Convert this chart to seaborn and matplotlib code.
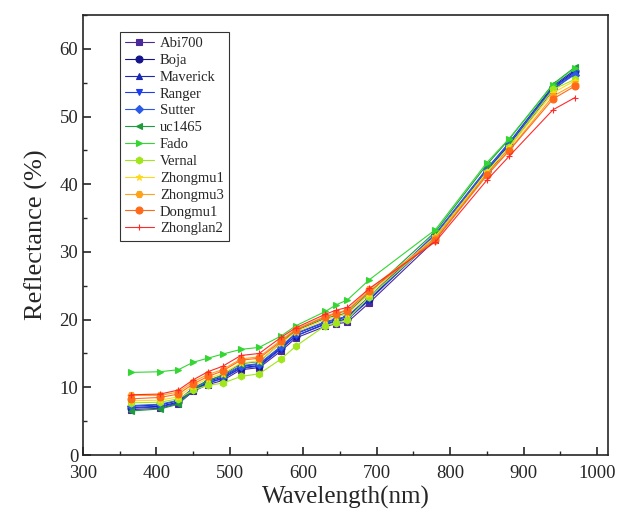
import pandas as pd
import matplotlib
matplotlib.use("Agg")
import matplotlib.pyplot as plt
import seaborn as sns
from matplotlib.ticker import MultipleLocator

# band centres (nm)
wavelength = [365, 405, 430, 450, 470, 490, 515, 540, 570, 590, 630, 645, 660, 690, 780, 850, 880, 940, 970]

# reflectance (%), one list per variety
abi700 = [6.7, 6.9, 7.6, 9.4, 10.4, 11.0, 12.6, 12.9, 15.4, 17.3, 19.0, 19.4, 19.6, 22.5, 31.8, 41.6, 45.4, 53.9, 56.4]
boja = [7.0, 7.2, 7.8, 9.6, 10.7, 11.3, 12.9, 13.2, 15.8, 17.6, 19.4, 19.8, 20.1, 23.0, 32.3, 42.0, 45.8, 54.3, 56.7]
maverick = [7.2, 7.4, 8.0, 9.8, 10.9, 11.5, 13.1, 13.4, 16.0, 17.9, 19.6, 20.0, 20.4, 23.3, 32.6, 42.3, 46.1, 54.5, 56.9]
ranger = [6.9, 7.1, 7.7, 9.5, 10.6, 11.3, 12.8, 13.1, 15.7, 17.6, 19.3, 19.7, 20.0, 22.9, 32.2, 42.0, 45.9, 54.2, 56.5]
sutter = [7.3, 7.5, 8.1, 9.9, 11.0, 11.7, 13.2, 13.5, 16.1, 18.0, 19.7, 20.1, 20.5, 23.4, 32.7, 42.2, 46.0, 54.1, 56.2]
uc1465 = [6.5, 6.8, 7.5, 9.7, 11.0, 11.8, 13.5, 13.8, 16.6, 18.4, 20.2, 20.6, 21.0, 24.0, 33.0, 42.9, 46.6, 54.8, 57.3]
fado = [12.2, 12.3, 12.6, 13.7, 14.3, 14.9, 15.6, 15.9, 17.6, 19.1, 21.2, 22.2, 22.9, 25.9, 33.3, 43.2, 46.7, 54.7, 57.2]
vernal = [7.7, 7.8, 8.3, 9.6, 10.3, 10.6, 11.6, 12.0, 14.2, 16.1, 19.1, 19.5, 20.0, 23.4, 32.0, 41.8, 45.5, 54.0, 55.5]
zhongmu1 = [8.0, 8.1, 8.6, 10.2, 11.3, 12.0, 13.6, 13.9, 16.5, 18.2, 20.0, 20.4, 20.8, 23.8, 32.3, 41.8, 45.4, 53.5, 55.3]
zhongmu3 = [8.8, 8.8, 9.3, 10.8, 11.9, 12.6, 14.2, 14.5, 17.0, 18.6, 20.5, 21.0, 21.4, 24.5, 32.0, 41.5, 45.0, 53.0, 54.8]
dongmu1 = [8.3, 8.5, 9.0, 10.5, 11.6, 12.4, 14.0, 14.3, 16.8, 18.5, 20.4, 20.9, 21.3, 24.2, 31.8, 41.3, 44.9, 52.6, 54.5]
zhonglan2 = [8.9, 9.0, 9.6, 11.1, 12.3, 13.1, 14.7, 15.0, 17.4, 18.8, 20.8, 21.4, 21.8, 24.6, 31.5, 40.6, 44.1, 51.0, 52.8]

names = ['Abi700', 'Boja', 'Maverick', 'Ranger', 'Sutter', 'uc1465', 'Fado',
         'Vernal', 'Zhongmu1', 'Zhongmu3', 'Dongmu1', 'Zhonglan2']
series = [abi700, boja, maverick, ranger, sutter, uc1465, fado,
          vernal, zhongmu1, zhongmu3, dongmu1, zhonglan2]

colors = ['#4a2a9a', '#14148c', '#1a28b4', '#1e3cf0', '#2a5ae6', '#1f9a3c', '#33d633',
          '#a0e61a', '#ffd91a', '#ffa21a', '#ff6a1a', '#ff2a2a']
markers = ['s', 'o', '^', 'v', 'D', '<', '>', 'h', '*', 'H', 'o', '+']

sns.set_style("ticks")
plt.rcParams['font.family'] = ['Liberation Serif', 'DejaVu Serif']

fig = plt.figure(figsize=(6.17, 5.15), dpi=100)
ax = fig.add_axes([0.1345, 0.1165, 0.851, 0.8544])

for name, vals, c, m in zip(names, series, colors, markers):
    sns.lineplot(x=wavelength, y=vals, color=c, marker=m, markersize=5 if m != 'D' else 4,
                 markeredgecolor=c, markeredgewidth=0.8, linewidth=0.8, label=name, ax=ax)

ax.set_xlim(300, 1015)
ax.set_ylim(0, 65)
ax.xaxis.set_major_locator(MultipleLocator(100))
ax.xaxis.set_minor_locator(MultipleLocator(50))
ax.yaxis.set_major_locator(MultipleLocator(10))
ax.yaxis.set_minor_locator(MultipleLocator(5))
ax.tick_params(which='major', direction='in', length=6, width=1.2, labelsize=13.5,
               top=False, right=False)
ax.tick_params(axis='x', which='major', pad=7)
ax.tick_params(which='minor', direction='in', length=3, width=1.0, top=False, right=False)
for s in ax.spines.values():
    s.set_linewidth(1.2)
    s.set_visible(True)

ax.set_xlabel("Wavelength(nm)", fontsize=18, labelpad=3)
ax.set_ylabel("Reflectance (%)", fontsize=19, labelpad=8)

leg = ax.legend(loc='upper left', bbox_to_anchor=(0.07, 0.962), borderaxespad=0, fontsize=10.5,
                frameon=True, fancybox=False, edgecolor='black', handlelength=2.0,
                labelspacing=0.25, borderpad=0.35, handletextpad=0.4)
leg.get_frame().set_linewidth(0.8)

fig.savefig("out.png", dpi=100)
